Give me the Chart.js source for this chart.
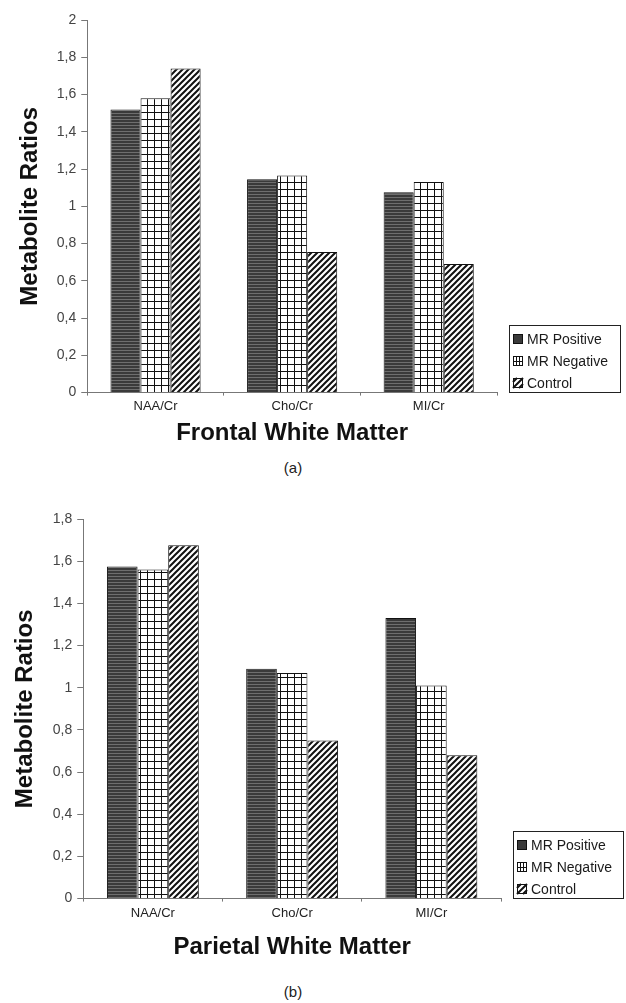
<!DOCTYPE html>
<html>
<head>
<meta charset="utf-8">
<script src="https://cdn.jsdelivr.net/npm/chart.js@4.4.0/dist/chart.umd.min.js"></script>
<style>
  body { margin: 0; background: #fff; width: 626px; height: 1003px; position: relative; overflow: hidden; }
  .box { position: absolute; left: 0; width: 626px; }
  .cap { position: absolute; left: 0; width: 586px; text-align: center; font: 15px "Liberation Sans", Arial, sans-serif; color: #222; line-height: 17px; }
</style>
</head>
<body>
<div class="box" style="top:0;height:448px"><canvas id="frontal"></canvas></div>
<div class="cap" style="top:459px">(a)</div>
<div class="box" style="top:502px;height:460px"><canvas id="parietal"></canvas></div>
<div class="cap" style="top:983px">(b)</div>
<script>
const categories = ['NAA/Cr', 'Cho/Cr', 'MI/Cr'];
const seriesNames = ['MR Positive', 'MR Negative', 'Control'];

const frontalPositive = [1.52, 1.145, 1.075];
const frontalNegative = [1.58, 1.165, 1.13];
const frontalControl = [1.74, 0.755, 0.69];

const parietalPositive = [1.575, 1.09, 1.33];
const parietalNegative = [1.56, 1.07, 1.01];
const parietalControl = [1.675, 0.75, 0.68];

const frontalTicks = ['0', '0,2', '0,4', '0,6', '0,8', '1', '1,2', '1,4', '1,6', '1,8', '2'];
const parietalTicks = ['0', '0,2', '0,4', '0,6', '0,8', '1', '1,2', '1,4', '1,6', '1,8'];

function makePattern(w, h, draw) {
    const c = document.createElement('canvas');
    c.width = w; c.height = h;
    const g = c.getContext('2d');
    draw(g, w, h);
    return g.createPattern(c, 'repeat');
}

const patPositive = makePattern(4, 3, (g, w, h) => {
    g.fillStyle = '#3a3a3a'; g.fillRect(0, 0, w, h);
    g.fillStyle = '#6e6e6e'; g.fillRect(0, 2, w, 1);
});
const patNegative = makePattern(7, 7, (g, w, h) => {
    g.fillStyle = '#fff'; g.fillRect(0, 0, w, h);
    g.fillStyle = '#111';
    g.fillRect(0, 0, w, 1);
    g.fillRect(0, 0, 1, h);
});
const patControl = makePattern(6, 6, (g, w, h) => {
    g.fillStyle = '#fff'; g.fillRect(0, 0, w, h);
    g.strokeStyle = '#111'; g.lineWidth = 2;
    g.beginPath();
    g.moveTo(-1, h + 1); g.lineTo(w + 1, -1);
    g.moveTo(-1 - w, h + 1); g.lineTo(1, -1);
    g.moveTo(w - 1, h + 1); g.lineTo(2 * w + 1, -1);
    g.stroke();
});
const patterns = [patPositive, patNegative, patControl];

// small legend swatches, drawn like the original key
function drawSwatch(g, i, x, y) {
    g.save();
    g.fillStyle = i === 0 ? '#3a3a3a' : '#fff';
    g.fillRect(x, y, 10, 10);
    g.strokeStyle = '#111';
    g.lineWidth = 1;
    g.beginPath();
    if (i === 1) {
        g.moveTo(x + 3.5, y); g.lineTo(x + 3.5, y + 10);
        g.moveTo(x + 6.5, y); g.lineTo(x + 6.5, y + 10);
        g.moveTo(x, y + 5.5); g.lineTo(x + 10, y + 5.5);
    } else if (i === 2) {
        g.lineWidth = 2;
        g.moveTo(x, y + 10); g.lineTo(x + 10, y);
        g.moveTo(x, y + 4); g.lineTo(x + 4, y);
        g.moveTo(x + 6, y + 10); g.lineTo(x + 10, y + 6);
    }
    g.stroke();
    g.lineWidth = 1;
    g.strokeRect(x + 0.5, y + 0.5, 9, 9);
    g.restore();
}

// framed legend sitting next to the plot, bottom on the x axis
const sideLegend = {
    id: 'sideLegend',
    afterDraw(chart, args, opts) {
        const g = chart.ctx;
        const area = chart.chartArea;
        const left = Math.round(area.right + 12);
        const bottom = Math.round(area.bottom - 1);
        const top = bottom - 67;
        g.save();
        g.strokeStyle = '#222'; g.lineWidth = 1;
        g.strokeRect(left + 0.5, top + 0.5, opts.width, 67);
        g.font = '14px "Liberation Sans", Arial, sans-serif';
        g.textBaseline = 'middle';
        chart.data.datasets.forEach((ds, i) => {
            const cy = Math.round(top + 14 + i * 22);
            drawSwatch(g, i, left + 4, cy - 5);
            g.fillStyle = '#1a1a1a';
            g.fillText(ds.label, left + 18, cy + 1);
        });
        g.restore();
    }
};

function buildChart(id, values, max, tickLabels, xTitle, pad, xTick, legendWidth) {
    new Chart(document.getElementById(id), {
        type: 'bar',
        data: {
            labels: categories,
            datasets: values.map((v, i) => ({
                label: seriesNames[i],
                data: v,
                backgroundColor: patterns[i],
                borderColor: '#111',
                borderWidth: 1,
                categoryPercentage: 0.66,
                barPercentage: 1,
            }))
        },
        options: {
            responsive: true,
            maintainAspectRatio: false,
            animation: false,
            layout: { padding: pad },
            scales: {
                y: {
                    min: 0,
                    max: max,
                    ticks: {
                        stepSize: 0.2,
                        color: '#444',
                        font: { family: 'Liberation Sans', size: 14 },
                        padding: 5,
                        callback: (val, index) => tickLabels[index],
                    },
                    grid: { drawOnChartArea: false, tickLength: 6, color: '#777' },
                    border: { color: '#777' },
                    title: {
                        display: true,
                        text: 'Metabolite Ratios',
                        color: '#111',
                        font: { family: 'Liberation Sans', size: 24, weight: 'bold' },
                        padding: { top: 6, bottom: xTick.ytitle },
                    },
                },
                x: {
                    ticks: {
                        color: '#222',
                        font: { family: 'Liberation Sans', size: 13 },
                        padding: xTick.tick,
                    },
                    grid: { drawOnChartArea: false, tickLength: 3, color: '#777' },
                    border: { color: '#777' },
                    title: {
                        display: true,
                        text: xTitle,
                        color: '#111',
                        font: { family: 'Liberation Sans', size: 24, weight: 'bold' },
                        padding: { top: xTick.title, bottom: 0 },
                    },
                },
            },
            plugins: {
                legend: { display: false },
                tooltip: { enabled: false },
                sideLegend: { width: legendWidth },
            },
        },
        plugins: [sideLegend],
    });
}

buildChart('frontal', [frontalPositive, frontalNegative, frontalControl], 2, frontalTicks,
    'Frontal White Matter', { left: 10, right: 129, top: 20, bottom: 0 }, { tick: 3, title: 2, ytitle: 7 }, 111);
buildChart('parietal', [parietalPositive, parietalNegative, parietalControl], 1.8, parietalTicks,
    'Parietal White Matter', { left: 5, right: 125, top: 17, bottom: 0 }, { tick: 4, title: 8, ytitle: 8 }, 110);
</script>
</body>
</html>
